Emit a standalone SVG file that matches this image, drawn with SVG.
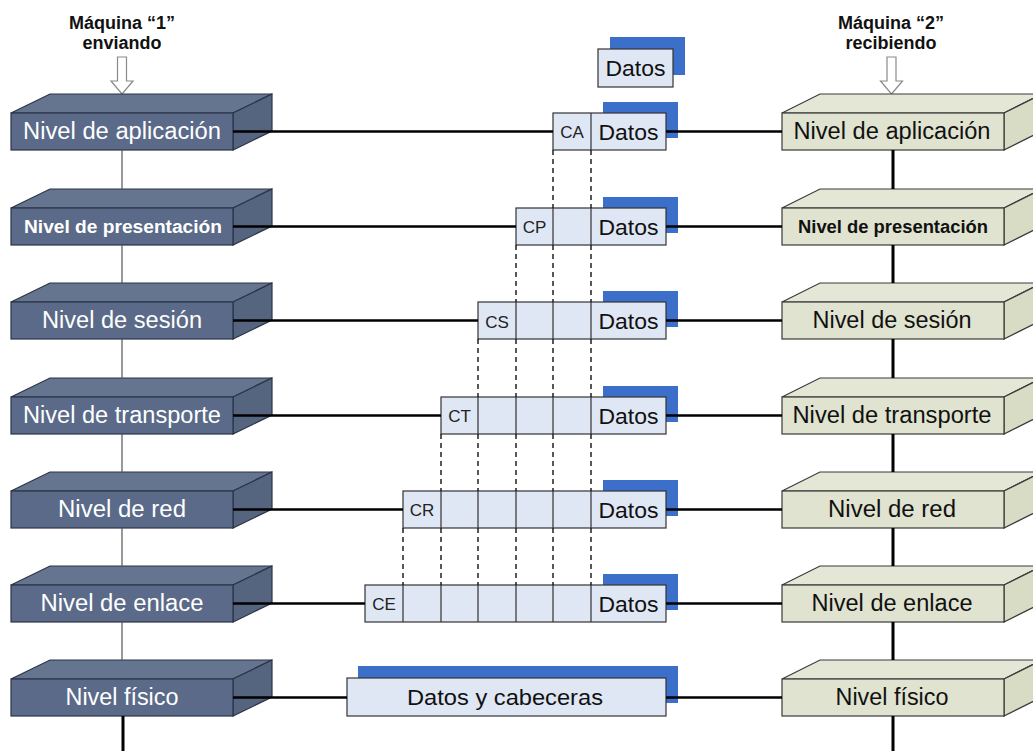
<svg xmlns="http://www.w3.org/2000/svg" width="1033" height="751" viewBox="0 0 1033 751">
<defs>
<style>
.lf{fill:#5a6a88;stroke:#2b3446;stroke-width:1.2}
.lt{fill:#66758f;stroke:#2b3446;stroke-width:1.2}
.ls{fill:#56657f;stroke:#2b3446;stroke-width:1.2}
.rf{fill:#dfe3cf;stroke:#3a3a3a;stroke-width:1.2}
.rt{fill:#e4e7d6;stroke:#3a3a3a;stroke-width:1.2}
.rs{fill:#d8dcc5;stroke:#3a3a3a;stroke-width:1.2}
.lbl{font-family:"Liberation Sans",Arial,sans-serif;font-size:23px;text-anchor:middle}
.lbw{fill:#ffffff}
.lbk{fill:#111111}
.bold{font-weight:bold;font-size:18px}
.pk{fill:#dfe7f5;stroke:#333333;stroke-width:1.2}
.sh{fill:#3b6fca}
.cell{stroke:#333333;stroke-width:1.2}
.hd{font-family:"Liberation Sans",Arial,sans-serif;font-size:17px;text-anchor:middle;fill:#222}
.dt{font-family:"Liberation Sans",Arial,sans-serif;font-size:22px;text-anchor:middle;fill:#111}
.ttl{font-family:"Liberation Sans",Arial,sans-serif;font-size:18px;font-weight:bold;text-anchor:middle;fill:#111}
.arr{fill:#ffffff;stroke:#8a8a8a;stroke-width:1.2}
.hl{stroke:#000;stroke-width:2.5;fill:none}
.vl{stroke:#555;stroke-width:1.2;fill:none}
.vr{stroke:#000;stroke-width:3;fill:none}
.dash{stroke:#111;stroke-width:1.4;stroke-dasharray:5 4;fill:none}
</style>
</defs>
<rect width="1033" height="751" fill="#ffffff"/>

<g id="title-left">
<text class="ttl" x="122" y="29">Máquina “1”</text>
<text class="ttl" x="122" y="49">enviando</text>
<polygon class="arr" points="117.5,57 126.5,57 126.5,81 133,81 122,94 111,81 117.5,81"/>
</g>
<g id="title-right">
<text class="ttl" x="891" y="29">Máquina “2”</text>
<text class="ttl" x="891" y="49">recibiendo</text>
<polygon class="arr" points="887,57 896,57 896,81 902.5,81 891.5,94 880.5,81 887,81"/>
</g>

<!-- left stack -->
<g id="left-aplicacion">
<polygon class="lt" points="11,113 50,94 272,94 233,113"/>
<polygon class="ls" points="233,113 272,94 272,131 233,150"/>
<rect class="lf" x="11" y="113" width="222" height="37"/>
<text class="lbl lbw" x="122" y="139" textLength="198" lengthAdjust="spacingAndGlyphs">Nivel de aplicación</text>
</g>
<g id="left-presentacion">
<polygon class="lt" points="11,208 50,189 272,189 233,208"/>
<polygon class="ls" points="233,208 272,189 272,226 233,245"/>
<rect class="lf" x="11" y="208" width="222" height="37"/>
<text class="lbl lbw bold" x="123" y="233" textLength="198" lengthAdjust="spacingAndGlyphs">Nivel de presentación</text>
</g>
<g id="left-sesion">
<polygon class="lt" points="11,302 50,283 272,283 233,302"/>
<polygon class="ls" points="233,302 272,283 272,320 233,339"/>
<rect class="lf" x="11" y="302" width="222" height="37"/>
<text class="lbl lbw" x="122" y="328" textLength="160" lengthAdjust="spacingAndGlyphs">Nivel de sesión</text>
</g>
<g id="left-transporte">
<polygon class="lt" points="11,397 50,378 272,378 233,397"/>
<polygon class="ls" points="233,397 272,378 272,415 233,434"/>
<rect class="lf" x="11" y="397" width="222" height="37"/>
<text class="lbl lbw" x="122" y="423" textLength="198" lengthAdjust="spacingAndGlyphs">Nivel de transporte</text>
</g>
<g id="left-red">
<polygon class="lt" points="11,491 50,472 272,472 233,491"/>
<polygon class="ls" points="233,491 272,472 272,509 233,528"/>
<rect class="lf" x="11" y="491" width="222" height="37"/>
<text class="lbl lbw" x="122" y="517" textLength="128" lengthAdjust="spacingAndGlyphs">Nivel de red</text>
</g>
<g id="left-enlace">
<polygon class="lt" points="11,585 50,566 272,566 233,585"/>
<polygon class="ls" points="233,585 272,566 272,603 233,622"/>
<rect class="lf" x="11" y="585" width="222" height="37"/>
<text class="lbl lbw" x="122" y="611" textLength="163" lengthAdjust="spacingAndGlyphs">Nivel de enlace</text>
</g>
<g id="left-fisico">
<polygon class="lt" points="11,679 50,660 272,660 233,679"/>
<polygon class="ls" points="233,679 272,660 272,697 233,716"/>
<rect class="lf" x="11" y="679" width="222" height="37"/>
<text class="lbl lbw" x="122" y="705" textLength="113" lengthAdjust="spacingAndGlyphs">Nivel físico</text>
</g>

<!-- right stack -->
<g id="right-aplicacion">
<polygon class="rt" points="782,113 820,94 1042,94 1004,113"/>
<polygon class="rs" points="1004,113 1042,94 1042,131 1004,150"/>
<rect class="rf" x="782" y="113" width="222" height="37"/>
<text class="lbl lbk" x="892" y="139" textLength="197" lengthAdjust="spacingAndGlyphs">Nivel de aplicación</text>
</g>
<g id="right-presentacion">
<polygon class="rt" points="782,208 820,189 1042,189 1004,208"/>
<polygon class="rs" points="1004,208 1042,189 1042,226 1004,245"/>
<rect class="rf" x="782" y="208" width="222" height="37"/>
<text class="lbl lbk bold" x="893" y="233" textLength="190" lengthAdjust="spacingAndGlyphs">Nivel de presentación</text>
</g>
<g id="right-sesion">
<polygon class="rt" points="782,302 820,283 1042,283 1004,302"/>
<polygon class="rs" points="1004,302 1042,283 1042,320 1004,339"/>
<rect class="rf" x="782" y="302" width="222" height="37"/>
<text class="lbl lbk" x="892" y="328" textLength="159" lengthAdjust="spacingAndGlyphs">Nivel de sesión</text>
</g>
<g id="right-transporte">
<polygon class="rt" points="782,397 820,378 1042,378 1004,397"/>
<polygon class="rs" points="1004,397 1042,378 1042,415 1004,434"/>
<rect class="rf" x="782" y="397" width="222" height="37"/>
<text class="lbl lbk" x="892" y="423" textLength="199" lengthAdjust="spacingAndGlyphs">Nivel de transporte</text>
</g>
<g id="right-red">
<polygon class="rt" points="782,491 820,472 1042,472 1004,491"/>
<polygon class="rs" points="1004,491 1042,472 1042,509 1004,528"/>
<rect class="rf" x="782" y="491" width="222" height="37"/>
<text class="lbl lbk" x="892" y="517" textLength="128" lengthAdjust="spacingAndGlyphs">Nivel de red</text>
</g>
<g id="right-enlace">
<polygon class="rt" points="782,585 820,566 1042,566 1004,585"/>
<polygon class="rs" points="1004,585 1042,566 1042,603 1004,622"/>
<rect class="rf" x="782" y="585" width="222" height="37"/>
<text class="lbl lbk" x="892" y="611" textLength="161" lengthAdjust="spacingAndGlyphs">Nivel de enlace</text>
</g>
<g id="right-fisico">
<polygon class="rt" points="782,679 820,660 1042,660 1004,679"/>
<polygon class="rs" points="1004,679 1042,660 1042,697 1004,716"/>
<rect class="rf" x="782" y="679" width="222" height="37"/>
<text class="lbl lbk" x="892" y="705" textLength="113" lengthAdjust="spacingAndGlyphs">Nivel físico</text>
</g>

<!-- packets -->
<g id="pkt-datos">
<rect class="sh" x="610" y="37" width="75" height="38"/>
<rect class="pk" x="598" y="49" width="75" height="38"/>
<text class="dt" x="635.5" y="76" textLength="60" lengthAdjust="spacingAndGlyphs">Datos</text>
</g>
<g id="pkt-aplicacion">
<rect class="sh" x="603" y="102" width="75" height="36"/>
<rect class="pk" x="553" y="113" width="113" height="37"/>
<line class="cell" x1="591" y1="113" x2="591" y2="150"/>
<text class="hd" x="572" y="138">CA</text>
<text class="dt" x="628.5" y="140" textLength="60" lengthAdjust="spacingAndGlyphs">Datos</text>
</g>
<g id="pkt-presentacion">
<rect class="sh" x="603" y="197" width="75" height="36"/>
<rect class="pk" x="516" y="208" width="150" height="37"/>
<path class="cell" d="M553,208V245M591,208V245"/>
<text class="hd" x="534.5" y="233">CP</text>
<text class="dt" x="628.5" y="235" textLength="60" lengthAdjust="spacingAndGlyphs">Datos</text>
</g>
<g id="pkt-sesion">
<rect class="sh" x="603" y="291" width="75" height="36"/>
<rect class="pk" x="478" y="302" width="188" height="37"/>
<path class="cell" d="M516,302V339M553,302V339M591,302V339"/>
<text class="hd" x="497" y="328">CS</text>
<text class="dt" x="628.5" y="329" textLength="60" lengthAdjust="spacingAndGlyphs">Datos</text>
</g>
<g id="pkt-transporte">
<rect class="sh" x="603" y="386" width="75" height="36"/>
<rect class="pk" x="441" y="397" width="225" height="37"/>
<path class="cell" d="M478,397V434M516,397V434M553,397V434M591,397V434"/>
<text class="hd" x="459.5" y="422">CT</text>
<text class="dt" x="628.5" y="424" textLength="60" lengthAdjust="spacingAndGlyphs">Datos</text>
</g>
<g id="pkt-red">
<rect class="sh" x="603" y="480" width="75" height="36"/>
<rect class="pk" x="403" y="491" width="263" height="37"/>
<path class="cell" d="M441,491V528M478,491V528M516,491V528M553,491V528M591,491V528"/>
<text class="hd" x="422" y="516">CR</text>
<text class="dt" x="628.5" y="518" textLength="60" lengthAdjust="spacingAndGlyphs">Datos</text>
</g>
<g id="pkt-enlace">
<rect class="sh" x="603" y="574" width="75" height="36"/>
<rect class="pk" x="365" y="585" width="301" height="37"/>
<path class="cell" d="M403,585V622M441,585V622M478,585V622M516,585V622M553,585V622M591,585V622"/>
<text class="hd" x="384" y="610">CE</text>
<text class="dt" x="628.5" y="612" textLength="60" lengthAdjust="spacingAndGlyphs">Datos</text>
</g>
<g id="pkt-fisico">
<rect class="sh" x="358" y="666" width="320" height="37"/>
<rect class="pk" x="347" y="678" width="319" height="38"/>
<text class="dt" x="505" y="705" textLength="196" lengthAdjust="spacingAndGlyphs">Datos y cabeceras</text>
</g>

<!-- connectors -->
<g id="connectors">
<path class="vl" d="M122,150V189M122,245V283M122,339V378M122,434V472M122,528V566M122,622V660"/>
<path class="vr" d="M123,716V751"/>
<path class="vr" d="M893,150V189M893,245V283M893,339V378M893,434V472M893,528V566M893,622V660M893,716V751"/>
<path class="hl" d="M233,131.5H553M666,131.5H782"/>
<path class="hl" d="M233,226.5H516M666,226.5H782"/>
<path class="hl" d="M233,320.5H478M666,320.5H782"/>
<path class="hl" d="M233,415.5H441M666,415.5H782"/>
<path class="hl" d="M233,509.5H403M666,509.5H782"/>
<path class="hl" d="M233,603.5H365M666,603.5H782"/>
<path class="hl" d="M233,697.5H347M666,697.5H782"/>
<path class="dash" d="M553,150V208M591,150V208"/>
<path class="dash" d="M516,245V302M553,245V302M591,245V302"/>
<path class="dash" d="M478,339V397M516,339V397M553,339V397M591,339V397"/>
<path class="dash" d="M441,434V491M478,434V491M516,434V491M553,434V491M591,434V491"/>
<path class="dash" d="M403,528V585M441,528V585M478,528V585M516,528V585M553,528V585M591,528V585"/>
</g>
</svg>
